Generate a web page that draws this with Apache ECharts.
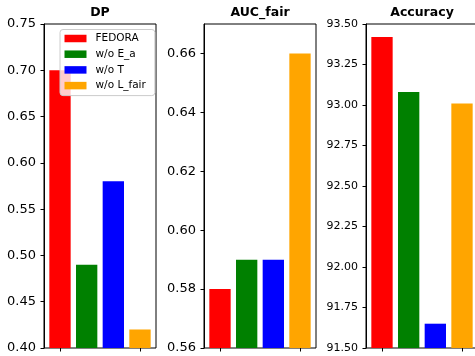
<!DOCTYPE html>
<html>
<head>
<meta charset="utf-8">
<script src="https://cdn.jsdelivr.net/npm/echarts@6/dist/echarts.min.js"></script>
<style>
html,body{margin:0;padding:0;background:#fff;}
#chart{width:475px;height:356px;}
</style>
</head>
<body>
<div id="chart"></div>
<script>
// ---- data ----
const categories = ['FEDORA', 'w/o E_a', 'w/o T', 'w/o L_fair'];
const panelTitles = ['DP', 'AUC_fair', 'Accuracy'];
const dpValues = [0.70, 0.49, 0.58, 0.42];
const aucValues = [0.58, 0.59, 0.59, 0.66];
const accValues = [93.42, 93.08, 91.65, 93.01];
const dpTicks = [0.40, 0.45, 0.50, 0.55, 0.60, 0.65, 0.70, 0.75];
const aucTicks = [0.56, 0.58, 0.60, 0.62, 0.64, 0.66];
const accTicks = [91.50, 91.75, 92.00, 92.25, 92.50, 92.75, 93.00, 93.25, 93.50];
const dpRange = [0.40, 0.75];
const aucRange = [0.56, 0.67];
const accRange = [91.5, 93.5];

// ---- styles / layout ----
const barColors = ['#ff0000', '#008000', '#0000ff', '#ffa500'];
const panelLefts = [44, 204, 366];
const panelWidth = 112;
const panelTop = 24;
const panelHeight = 324;
const tickFont = [13, 13, 11];
const FONT = 'DejaVu Sans';

const panels = [
  { values: dpValues, ticks: dpTicks, range: dpRange },
  { values: aucValues, ticks: aucTicks, range: aucRange },
  { values: accValues, ticks: accTicks, range: accRange }
];

const grid = [], xAxis = [], yAxis = [], series = [], title = [];
// matplotlib x-limits: -0.6 .. 3.6 ; categories occupy -0.5 .. 3.5
const inset = panelWidth * 0.1 / 4.2;

panels.forEach((p, k) => {
  const L = panelLefts[k];
  // frame grid
  grid.push({ left: L, top: panelTop, width: panelWidth, height: panelHeight,
    show: true, borderColor: '#000', borderWidth: 1, backgroundColor: 'transparent',
    outerBoundsMode: 'none', containLabel: false });
  // data grid
  grid.push({ left: L + inset, top: panelTop, width: panelWidth - 2 * inset, height: panelHeight,
    show: false, outerBoundsMode: 'none', containLabel: false });

  const gFrame = 2 * k, gData = 2 * k + 1;
  xAxis.push({ gridIndex: gFrame, type: 'value', min: 0, max: 1, show: false });
  xAxis.push({ gridIndex: gData, type: 'category', data: categories,
    axisLine: { show: false },
    axisTick: { show: true, alignWithLabel: true, length: 3.5, lineStyle: { color: '#000', width: 1 } },
    axisLabel: { show: false }, splitLine: { show: false } });

  yAxis.push({ gridIndex: gFrame, type: 'value', min: p.range[0], max: p.range[1],
    axisLine: { show: true, lineStyle: { color: '#000', width: 1 } },
    axisTick: { show: true, length: 3.5, lineStyle: { color: '#000', width: 1 }, customValues: p.ticks },
    axisLabel: { show: true, color: '#000', fontFamily: FONT, fontSize: tickFont[k], margin: 8,
      customValues: p.ticks, formatter: v => Number(v).toFixed(2) },
    splitLine: { show: false } });
  yAxis.push({ gridIndex: gData, type: 'value', min: p.range[0], max: p.range[1], show: false,
    splitLine: { show: false } });

  categories.forEach((c, j) => {
    series.push({
      name: c, type: 'bar', xAxisIndex: gData, yAxisIndex: gData,
      barWidth: '80%', barGap: '-100%',
      itemStyle: { color: barColors[j] },
      data: p.values.map((v, i) => (i === j ? v : '-')),
      animation: false, silent: true
    });
  });

  title.push({ text: panelTitles[k], left: L + panelWidth / 2, top: 6, textAlign: 'center', padding: 0,
    textStyle: { fontFamily: FONT, fontWeight: 'bold', fontSize: 12.5, color: '#000', lineHeight: 14 } });
});

const chart = echarts.init(document.getElementById('chart'), null, { renderer: 'canvas' });
chart.setOption({
  animation: false,
  backgroundColor: '#fff',
  title: title,
  grid: grid, xAxis: xAxis, yAxis: yAxis, series: series,
  legend: {
    data: categories, left: 60, top: 29.5, orient: 'vertical',
    padding: [3, 9, 4, 4.5], itemGap: 3.7, itemWidth: 22, itemHeight: 7.5, icon: 'rect',
    backgroundColor: 'rgba(255,255,255,0.8)', borderColor: '#cccccc', borderWidth: 1, borderRadius: 3,
    textStyle: { fontFamily: FONT, fontSize: 10.5, color: '#000', lineHeight: 12, padding: [0, 0, 0, 4] },
    selectedMode: false
  }
});
</script>
</body>
</html>
